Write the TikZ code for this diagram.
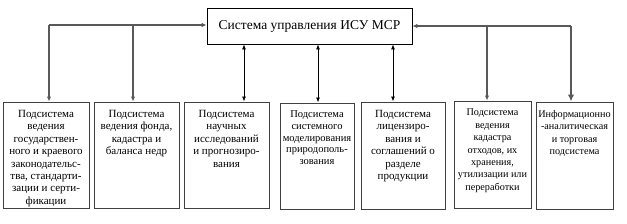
\documentclass[tikz,border=0pt]{standalone}
\usepackage{fontspec}
\setmainfont{Liberation Serif}
\usetikzlibrary{arrows.meta}
\begin{document}
\begin{tikzpicture}[x=1pt,y=-1pt,
  topbox/.style={draw=black, line width=0.8pt, inner sep=0pt, minimum width=205, minimum height=36},
  subbox/.style={draw=black!75, line width=1pt, inner sep=0pt},
  subtxt/.style={anchor=north, align=center, inner sep=0pt, font=\fontsize{11}{12.4}\selectfont},
  grayline/.style={draw=black!65, line width=1.3pt},
  blackarr/.style={draw=black, line width=0.8pt, {Latex[length=5pt,width=4pt]}-{Latex[length=5pt,width=4pt]}},
  tip/.style={-{Latex[length=5pt,width=4.5pt]}},
  bigtip/.style={-{Latex[length=7pt,width=6.5pt]}}
]
\useasboundingbox (0,0) rectangle (627,223);
% top box
\node[topbox, font=\fontsize{13.5}{14}\selectfont] (top) at (309.5,26) {Система управления ИСУ МСР};
% sub boxes
\node[subbox, minimum width=86, minimum height=106] (b1) at (46,155) {};
\node[subbox, minimum width=85, minimum height=106] (b2) at (136.5,155) {};
\node[subbox, minimum width=85, minimum height=106] (b3) at (226.5,155) {};
\node[subbox, minimum width=74, minimum height=106] (b4) at (317,156) {};
\node[subbox, minimum width=84, minimum height=107] (b5) at (403,155.5) {};
\node[subbox, minimum width=77, minimum height=107] (b6) at (492.5,154.5) {};
\node[subbox, minimum width=77, minimum height=107] (b7) at (574.5,155.5) {};
% texts
\node[subtxt] (t1) at ([yshift=-8.5]b1.north) {Подсистема\\ведения\\государствен-\\ного и краевого\\законодательс-\\тва, стандарти-\\зации и серти-\\фикации};
\node[subtxt] (t2) at ([yshift=-8.5]b2.north) {Подсистема\\ведения фонда,\\кадастра и\\баланса недр};
\node[subtxt] (t3) at ([yshift=-8.5]b3.north) {Подсистема\\научных\\исследований\\и прогнозиро-\\вания};
\node[subtxt, font=\fontsize{10.5}{11.8}\selectfont] (t4) at ([yshift=-8]b4.north) {Подсистема\\системного\\моделирования\\природополь-\\зования};
\node[subtxt] (t5) at ([yshift=-8.5]b5.north) {Подсистема\\лицензиро-\\вания и\\соглашений о\\разделе\\продукции};
\node[subtxt, font=\fontsize{10.2}{12.4}\selectfont] (t6) at ([yshift=-8.5]b6.north) {Подсистема\\ведения\\кадастра\\отходов, их\\хранения,\\утилизации или\\переработки};
\node[subtxt, font=\fontsize{10.2}{12.4}\selectfont] (t7) at ([yshift=-8.5]b7.north) {Информационно\\-аналитическая\\и торговая\\подсистема};
% junction coordinates
\coordinate (lj1) at (49,25);
\coordinate (lj2) at (133,25);
\coordinate (rj1) at (487,26);
\coordinate (rj2) at (571,26);
\coordinate (m1) at (244,70);
\coordinate (m2) at (318,70);
\coordinate (m3) at (393,70);
% left connectors
\draw[grayline, tip] (lj1) -- (lj1 -| top.west);
\draw[grayline, tip] (lj1) -- (lj1 |- b1.north);
\draw[grayline, tip] (lj2) -- (lj2 |- b2.north);
% right connectors
\draw[grayline, tip] (rj2) -- (rj2 -| top.east);
\draw[grayline, tip] (rj1) -- (rj1 |- b6.north);
\draw[grayline, bigtip] (rj2) -- (rj2 |- b7.north);
% middle double arrows
\draw[blackarr] (m1 |- top.south) -- (m1 |- b3.north);
\draw[blackarr] (m2 |- top.south) -- (m2 |- b4.north);
\draw[blackarr] (m3 |- top.south) -- (m3 |- b5.north);
\end{tikzpicture}
\end{document}
